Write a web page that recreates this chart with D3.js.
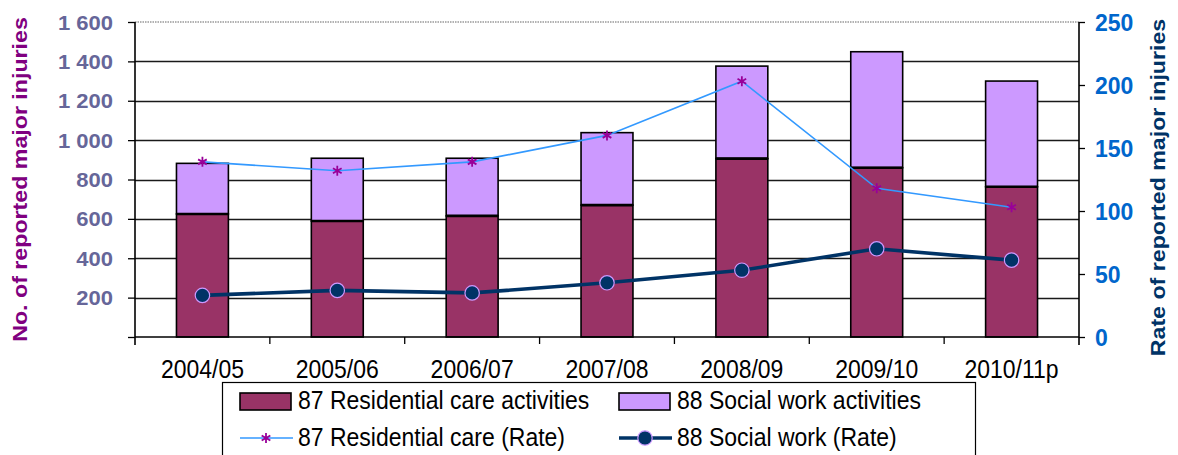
<!DOCTYPE html>
<html>
<head>
<meta charset="utf-8">
<script src="https://cdnjs.cloudflare.com/ajax/libs/d3/7.8.5/d3.min.js"></script>
<style>
  html, body { margin: 0; padding: 0; background: #fff; }
  svg { display: block; }
  text { font-family: "Liberation Sans", Arial, sans-serif; }
</style>
</head>
<body>
<svg id="chart" width="1178" height="455"></svg>
<script>
// Major injuries in residential care and social work, by year
const categories = ["2004/05", "2005/06", "2006/07", "2007/08", "2008/09", "2009/10", "2010/11p"];
const residentialCount = [625, 589, 615, 670, 906, 860, 763];
const socialWorkCount = [257, 319, 293, 368, 470, 589, 537];
const residentialRate = [139, 132, 139, 160, 203, 118, 103];
const socialWorkRate = [33, 37, 35, 43, 53, 70, 61];

const leftTicks = [0, 200, 400, 600, 800, 1000, 1200, 1400, 1600];
const leftTickLabels = ["", "200", "400", "600", "800", "1\u00A0000", "1\u00A0200", "1\u00A0400", "1\u00A0600"];
const rightTicks = [0, 50, 100, 150, 200, 250];
const rightTickLabels = ["0", "50", "100", "150", "200", "250"];

const seriesNames = [
  "87 Residential care activities",
  "88 Social work activities",
  "87 Residential care (Rate)",
  "88 Social work (Rate)"
];

const svg = d3.select("#chart");
const plot = { left: 135, right: 1079, top: 22, bottom: 337 };

const x = d3.scaleBand().domain(categories).range([plot.left, plot.right]).paddingInner(0).paddingOuter(0);
const yLeft = d3.scaleLinear().domain([0, 1600]).range([plot.bottom, plot.top]);
const yRight = d3.scaleLinear().domain([0, 250]).range([plot.bottom, plot.top]);

const barW = x.bandwidth() * 0.385;
const cx = c => x(c) + x.bandwidth() / 2;

const colors = {
  residential: "#993366",
  social: "#CC99FF",
  resRate: "#3399FF",
  resMarker: "#990099",
  socRate: "#003366",
  socMarkerStroke: "#CC99FF",
  leftText: "#666699",
  leftTitle: "#800080",
  rightText: "#0066CC",
  rightTitle: "#003366"
};

// Text stretch used throughout (slightly tall glyphs)
const SY = 1.11;

// top border of plot area
svg.append("line")
  .attr("x1", plot.left).attr("x2", plot.right)
  .attr("y1", yLeft(1600)).attr("y2", yLeft(1600))
  .attr("stroke", "#999").attr("stroke-width", 1.5).attr("stroke-dasharray", "1.5,1");

// horizontal gridlines
svg.append("g").selectAll("line")
  .data(leftTicks.filter(d => d > 0 && d < 1600))
  .join("line")
  .attr("x1", plot.left).attr("x2", plot.right)
  .attr("y1", d => Math.round(yLeft(d)) + 0.5).attr("y2", d => Math.round(yLeft(d)) + 0.5)
  .attr("stroke", "#1a1a1a").attr("stroke-width", 1.4);

// stacked bars
const barData = categories.map((c, i) => ({ c, r: residentialCount[i], s: socialWorkCount[i] }));
const bars = svg.append("g");
bars.selectAll("rect.soc")
  .data(barData).join("rect").attr("class", "soc")
  .attr("x", d => cx(d.c) - barW / 2).attr("width", barW)
  .attr("y", d => yLeft(d.r + d.s)).attr("height", d => yLeft(d.r) - yLeft(d.r + d.s))
  .attr("fill", colors.social).attr("stroke", "#000").attr("stroke-width", 1.6);
bars.selectAll("rect.res")
  .data(barData).join("rect").attr("class", "res")
  .attr("x", d => cx(d.c) - barW / 2).attr("width", barW)
  .attr("y", d => yLeft(d.r)).attr("height", d => yLeft(0) - yLeft(d.r))
  .attr("fill", colors.residential).attr("stroke", "#000").attr("stroke-width", 1.6);
// divider between the two segments
bars.selectAll("line.div")
  .data(barData).join("line").attr("class", "div")
  .attr("x1", d => cx(d.c) - barW / 2).attr("x2", d => cx(d.c) + barW / 2)
  .attr("y1", d => yLeft(d.r)).attr("y2", d => yLeft(d.r))
  .attr("stroke", "#000").attr("stroke-width", 2.6);

// left axis
const axL = svg.append("g").attr("transform", `translate(${plot.left},0)`)
  .call(d3.axisLeft(yLeft).tickValues(leftTicks).tickFormat((d, i) => leftTickLabels[i]).tickSize(7).tickPadding(0));
axL.select(".domain").remove();
axL.selectAll(".tick line").attr("stroke", "#000").attr("stroke-width", 1.3);
axL.selectAll(".tick text")
  .attr("x", 0).attr("dy", null)
  .attr("transform", "translate(-22,7) scale(1.1,1)")
  .attr("text-anchor", "end")
  .attr("fill", colors.leftText)
  .style("font-size", "20px").style("font-weight", "bold");
svg.append("line")
  .attr("x1", plot.left).attr("x2", plot.left)
  .attr("y1", plot.top).attr("y2", plot.bottom + 8)
  .attr("stroke", "#000").attr("stroke-width", 1.6);

// right axis
const axR = svg.append("g").attr("transform", `translate(${plot.right},0)`)
  .call(d3.axisRight(yRight).tickValues(rightTicks).tickFormat((d, i) => rightTickLabels[i]).tickSize(6).tickPadding(0));
axR.select(".domain").remove();
axR.selectAll(".tick line").attr("stroke", "#000").attr("stroke-width", 1.3);
axR.selectAll(".tick text")
  .attr("x", 0).attr("dy", null)
  .attr("transform", "translate(16,8)")
  .attr("text-anchor", "start")
  .attr("fill", colors.rightText)
  .style("font-size", "23px").style("font-weight", "bold");
svg.append("line")
  .attr("x1", plot.right).attr("x2", plot.right)
  .attr("y1", plot.top).attr("y2", plot.bottom + 8)
  .attr("stroke", "#000").attr("stroke-width", 1.6);

// bottom axis: labels centred in each band, ticks on band edges
const axB = svg.append("g").attr("transform", `translate(0,${plot.bottom})`)
  .call(d3.axisBottom(x).tickSize(0).tickPadding(0));
axB.select(".domain").remove();
axB.selectAll(".tick text")
  .attr("y", 0).attr("dy", null)
  .attr("transform", `translate(0,41) scale(1,${SY})`)
  .attr("fill", "#000")
  .style("font-size", "23px");
svg.append("line")
  .attr("x1", plot.left).attr("x2", plot.right)
  .attr("y1", plot.bottom).attr("y2", plot.bottom)
  .attr("stroke", "#000").attr("stroke-width", 1.6);
svg.append("g").selectAll("line")
  .data(categories.slice(1))
  .join("line")
  .attr("x1", d => x(d)).attr("x2", d => x(d))
  .attr("y1", plot.bottom).attr("y2", plot.bottom + 7)
  .attr("stroke", "#000").attr("stroke-width", 1.3);

// rate lines
const rateLine = d3.line().x((d, i) => cx(categories[i])).y(d => yRight(d));
svg.append("path").datum(residentialRate)
  .attr("d", rateLine).attr("fill", "none")
  .attr("stroke", colors.resRate).attr("stroke-width", 1.6);
svg.append("path").datum(socialWorkRate)
  .attr("d", rateLine).attr("fill", "none")
  .attr("stroke", colors.socRate).attr("stroke-width", 3.6);

const star = d3.symbol().type(d3.symbolAsterisk).size(70);
function drawStar(g, px, py) {
  g.append("path").attr("d", star()).attr("transform", `translate(${px},${py})`)
    .attr("fill", "none").attr("stroke", colors.resMarker).attr("stroke-width", 1.8);
}
function drawDot(g, px, py) {
  g.append("circle").attr("cx", px).attr("cy", py).attr("r", 7.2)
    .attr("fill", colors.socRate).attr("stroke", colors.socMarkerStroke).attr("stroke-width", 1.2);
}
const marks = svg.append("g");
residentialRate.forEach((v, i) => drawStar(marks, cx(categories[i]), yRight(v)));
socialWorkRate.forEach((v, i) => drawDot(marks, cx(categories[i]), yRight(v)));

// axis titles
svg.append("text")
  .attr("transform", `translate(27,${(plot.top + plot.bottom) / 2}) rotate(-90) scale(1.16,1)`)
  .attr("text-anchor", "middle")
  .attr("fill", colors.leftTitle)
  .style("font-size", "20px").style("font-weight", "bold")
  .text("No. of reported major injuries");
svg.append("text")
  .attr("transform", `translate(1165,${(plot.top + plot.bottom) / 2 + 8}) rotate(-90) scale(1.16,1)`)
  .attr("text-anchor", "middle")
  .attr("fill", colors.rightTitle)
  .style("font-size", "20px").style("font-weight", "bold")
  .text("Rate of reported major injuries");

// legend
const legend = svg.append("g");
legend.append("rect")
  .attr("x", 222.5).attr("y", 382.5).attr("width", 753).attr("height", 90)
  .attr("fill", "#fff").attr("stroke", "#000").attr("stroke-width", 1.2);

const colX = [240, 619];
const rowY = [409, 446];
function legendText(px, py, str) {
  legend.append("text")
    .attr("transform", `translate(${px},${py}) scale(1,${SY})`)
    .attr("fill", "#000").style("font-size", "23px")
    .text(str);
}
// bar swatches
[[colors.residential, 0], [colors.social, 1]].forEach(([fill, k]) => {
  legend.append("rect")
    .attr("x", colX[k]).attr("y", rowY[0] - 16).attr("width", 51).attr("height", 17)
    .attr("fill", fill).attr("stroke", "#000").attr("stroke-width", 1.6);
  legendText(colX[k] + 58, rowY[0], seriesNames[k]);
});
// line swatches
legend.append("line")
  .attr("x1", colX[0]).attr("x2", colX[0] + 53).attr("y1", rowY[1] - 8).attr("y2", rowY[1] - 8)
  .attr("stroke", colors.resRate).attr("stroke-width", 1.6);
drawStar(legend, colX[0] + 26, rowY[1] - 8);
legendText(colX[0] + 58, rowY[1], seriesNames[2]);
legend.append("line")
  .attr("x1", colX[1]).attr("x2", colX[1] + 53).attr("y1", rowY[1] - 8).attr("y2", rowY[1] - 8)
  .attr("stroke", colors.socRate).attr("stroke-width", 3.6);
drawDot(legend, colX[1] + 26, rowY[1] - 8);
legendText(colX[1] + 58, rowY[1], seriesNames[3]);
</script>
</body>
</html>
